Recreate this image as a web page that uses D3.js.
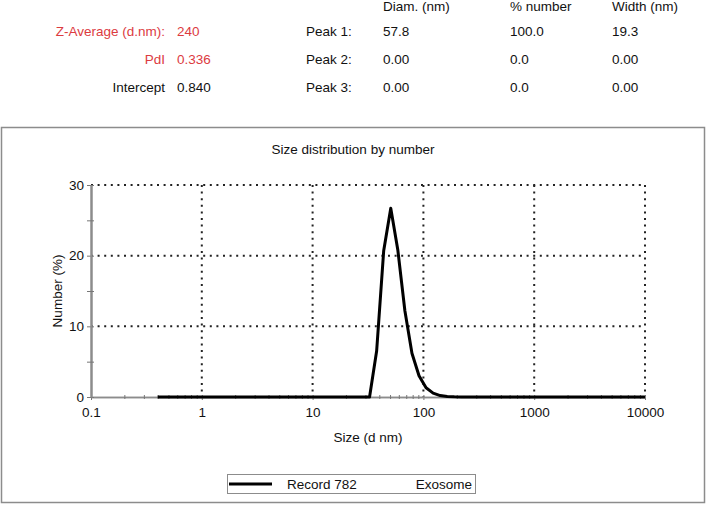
<!DOCTYPE html>
<html>
<head>
<meta charset="utf-8">
<script src="https://cdn.jsdelivr.net/npm/d3@7"></script>
<style>
  body { margin: 0; background: #fff; }
  text { font-family: "Liberation Sans", Arial, sans-serif; }
</style>
</head>
<body>
<div id="chart"></div>
<script>
// Malvern size classes (d nm) and number distribution (%)
var sizes = [0.4, 0.4632, 0.5365, 0.6213, 0.7195, 0.8332, 0.9649, 1.117, 1.294, 1.499,
	1.736, 2.010, 2.328, 2.696, 3.122, 3.615, 4.187, 4.849, 5.615, 6.503,
	7.531, 8.721, 10.10, 11.70, 13.54, 15.69, 18.17, 21.04, 24.36, 28.21,
	32.67, 37.84, 43.82, 50.75, 58.77, 68.06, 78.82, 91.28, 105.7, 122.4,
	141.8, 164.2, 190.1, 220.2, 255.0, 295.3, 342.0, 396.1, 458.7, 531.2,
	615.1, 712.4, 825.0, 955.4, 1106, 1281, 1484, 1718, 1990, 2305,
	2669, 3091, 3580, 4145, 4801, 5560, 6439, 7456, 8635, 10000];
var numbers = [0, 0, 0, 0, 0, 0, 0, 0, 0, 0,
	0, 0, 0, 0, 0, 0, 0, 0, 0, 0,
	0, 0, 0, 0, 0, 0, 0, 0, 0, 0,
	0, 6.5, 20.7, 26.7, 20.8, 12.2, 6.2, 3.0, 1.3, 0.55,
	0.2, 0.08, 0.03, 0.01, 0, 0, 0, 0, 0, 0,
	0, 0, 0, 0, 0, 0, 0, 0, 0, 0,
	0, 0, 0, 0, 0, 0, 0, 0, 0, 0];

var xMajor = [0.1, 1, 10, 100, 1000, 10000];
var xMinor = [0.2, 0.3, 0.4, 0.5, 0.6, 0.7, 0.8, 0.9,
	2, 3, 4, 5, 6, 7, 8, 9, 20, 30, 40, 50, 60, 70, 80, 90,
	200, 300, 400, 500, 600, 700, 800, 900, 2000, 3000, 4000, 5000, 6000, 7000, 8000, 9000];
var yMajor = [0, 10, 20, 30];
var yMinor = [5, 15, 25];

// header table
var leftLabels = ["Z-Average (d.nm):", "PdI", "Intercept"];
var leftValues = ["240", "0.336", "0.840"];
var peakLabels = ["Peak 1:", "Peak 2:", "Peak 3:"];
var colHeads = ["Diam. (nm)", "% number", "Width (nm)"];
var peakDiam = ["57.8", "0.00", "0.00"];
var peakPct = ["100.0", "0.0", "0.0"];
var peakWidth = ["19.3", "0.00", "0.00"];

var width = 706, height = 505;
var red = "#dc3b3f";
var fs = "13.5px";

var svg = d3.select("#chart").append("svg")
	.attr("width", width)
	.attr("height", height);

// header
var rowY = [31, 59, 87];
var head = svg.append("g").attr("font-size", fs);
head.selectAll(".lab").data(leftLabels).join("text")
	.attr("x", 165).attr("y", (d, i) => rowY[i]).attr("dy", "0.35em")
	.attr("text-anchor", "end")
	.attr("fill", (d, i) => i < 2 ? red : "#111")
	.text(d => d);
head.selectAll(".val").data(leftValues).join("text")
	.attr("x", 177).attr("y", (d, i) => rowY[i]).attr("dy", "0.35em")
	.attr("fill", (d, i) => i < 2 ? red : "#111")
	.text(d => d);
head.selectAll(".pk").data(peakLabels).join("text")
	.attr("x", 306).attr("y", (d, i) => rowY[i]).attr("dy", "0.35em")
	.attr("fill", "#111").text(d => d);
var colX = [383, 510, 612];
head.selectAll(".ch").data(colHeads).join("text")
	.attr("x", (d, i) => colX[i]).attr("y", 6).attr("dy", "0.35em")
	.attr("fill", "#111").text(d => d);
[peakDiam, peakPct, peakWidth].forEach(function(col, c) {
	head.selectAll(".c" + c).data(col).join("text")
		.attr("x", colX[c]).attr("y", (d, i) => rowY[i]).attr("dy", "0.35em")
		.attr("fill", "#111").text(d => d);
});

// outer frame
svg.append("rect")
	.attr("x", 1.5).attr("y", 127.5).attr("width", 703).attr("height", 375)
	.attr("fill", "none").attr("stroke", "#8c8c8c").attr("stroke-width", 1.5);

svg.append("text")
	.attr("x", 353).attr("y", 149).attr("dy", "0.35em")
	.attr("text-anchor", "middle").attr("font-size", fs).attr("fill", "#111")
	.text("Size distribution by number");

var x = d3.scaleLog().domain([0.1, 10000]).range([91, 645]);
var y = d3.scaleLinear().domain([0, 30]).range([397, 185]);

// dotted grid
var grid = svg.append("g")
	.attr("stroke", "#222").attr("stroke-width", 2).attr("stroke-dasharray", "2,4.6");
grid.selectAll(".gx").data(xMajor.slice(1)).join("line")
	.attr("x1", d => x(d)).attr("x2", d => x(d))
	.attr("y1", y(30)).attr("y2", y(0));
grid.selectAll(".gy").data(yMajor.slice(1)).join("line")
	.attr("x1", x(0.1)).attr("x2", x(10000))
	.attr("y1", d => y(d)).attr("y2", d => y(d));

// axes
var gx = svg.append("g").attr("transform", "translate(0," + y(0) + ")")
	.call(d3.axisBottom(x).tickValues(xMajor).tickFormat(d => d).tickSize(3).tickSizeOuter(0));
var gxm = svg.append("g").attr("transform", "translate(0," + y(0) + ")")
	.call(d3.axisBottom(x).tickValues(xMinor).tickFormat("").tickSize(2).tickSizeOuter(0));
var gy = svg.append("g").attr("transform", "translate(" + x(0.1) + ",0)")
	.call(d3.axisLeft(y).tickValues(yMajor).tickSize(4).tickSizeOuter(0));
var gym = svg.append("g").attr("transform", "translate(" + x(0.1) + ",0)")
	.call(d3.axisLeft(y).tickValues(yMinor).tickFormat("").tickSize(4).tickSizeOuter(0));

[gx, gxm].forEach(function(g) {
	g.select(".domain").attr("stroke", "#8c8c8c").attr("stroke-width", 1.5);
	g.selectAll(".tick line").attr("stroke", "#777").attr("y1", -2);
	g.selectAll(".tick text").attr("font-size", fs).attr("fill", "#111").attr("dy", "1em");
	g.attr("font-family", null);
});
[gy, gym].forEach(function(g) {
	g.select(".domain").attr("stroke", "#8c8c8c").attr("stroke-width", 2);
	g.selectAll(".tick line").attr("stroke", "#777").attr("x1", 3);
	g.selectAll(".tick text").attr("font-size", fs).attr("fill", "#111").attr("x", -7);
	g.attr("font-family", null);
});

svg.append("text")
	.attr("x", (x(0.1) + x(10000)) / 2).attr("y", 437).attr("dy", "0.35em")
	.attr("text-anchor", "middle").attr("font-size", fs).attr("fill", "#111")
	.text("Size (d nm)");
svg.append("text")
	.attr("transform", "translate(57," + (y(15)) + ") rotate(-90)")
	.attr("dy", "0.35em")
	.attr("text-anchor", "middle").attr("font-size", fs).attr("fill", "#111")
	.text("Number (%)");

// distribution curve
var line = d3.line()
	.x((d, i) => x(sizes[i]))
	.y(d => y(d));
svg.append("path")
	.datum(numbers)
	.attr("d", line)
	.attr("fill", "none").attr("stroke", "#000").attr("stroke-width", 3)
	.attr("stroke-linejoin", "round");

// legend
var leg = svg.append("g");
leg.append("rect")
	.attr("x", 227.5).attr("y", 474.5).attr("width", 248).attr("height", 19)
	.attr("fill", "#fff").attr("stroke", "#8c8c8c").attr("stroke-width", 1);
leg.append("line")
	.attr("x1", 229).attr("x2", 272).attr("y1", 484).attr("y2", 484)
	.attr("stroke", "#000").attr("stroke-width", 3);
leg.append("text")
	.attr("x", 287).attr("y", 484).attr("dy", "0.35em")
	.attr("font-size", fs).attr("fill", "#111").text("Record 782");
leg.append("text")
	.attr("x", 472).attr("y", 484).attr("dy", "0.35em").attr("text-anchor", "end")
	.attr("font-size", fs).attr("fill", "#111").text("Exosome");
</script>
</body>
</html>
